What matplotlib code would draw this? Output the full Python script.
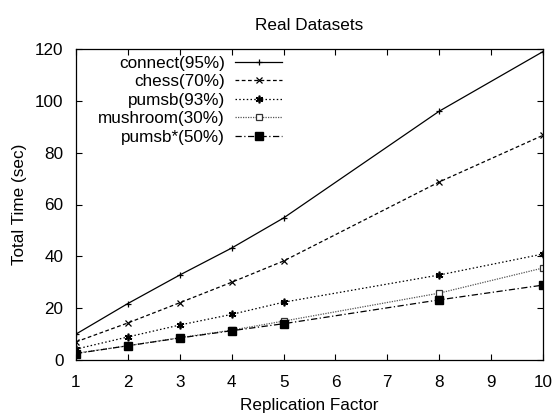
import matplotlib
matplotlib.use("Agg")
import matplotlib.pyplot as plt

plt.rcParams['font.family'] = ['Liberation Sans', 'DejaVu Sans']

x = [1, 2, 3, 4, 5, 8, 10]
connect = [10.0, 21.8, 32.8, 43.2, 54.8, 96.0, 119.0]
chess = [7.0, 14.3, 22.1, 30.0, 38.2, 68.7, 86.7]
pumsb = [4.2, 8.9, 13.5, 17.6, 22.3, 32.8, 40.9]
mushroom = [2.6, 5.5, 8.6, 11.5, 15.0, 25.8, 35.5]
pumsb_star = [2.5, 5.5, 8.5, 11.3, 14.0, 23.2, 28.9]

labels = ['connect(95%)', 'chess(70%)', 'pumsb(93%)', 'mushroom(30%)', 'pumsb*(50%)']
xticks = list(range(1, 11))
yticks = [0, 20, 40, 60, 80, 100, 120]

W, H = 552, 413
fig = plt.figure(figsize=(W / 100, H / 100), dpi=100)
ax = fig.add_axes([76 / W, (H - 360) / H, (543 - 76) / W, (360 - 49) / H])

fs = 12.3
ax.plot(x, connect, color='black', lw=0.9, ls='-', marker='+', ms=5, mew=0.9, label=labels[0])
ax.plot(x, chess, color='black', lw=0.9, ls=(0, (3, 2)), marker='x', ms=4.5, mew=0.9, label=labels[1])
ax.plot(x, pumsb, color='black', lw=0.9, ls=(0, (1.2, 1.8)), marker=(6, 2, 0), ms=5.5, mew=1.2, label=labels[2])
ax.plot(x, mushroom, color='#555555', lw=0.9, ls=(0, (1, 1)), marker='s', ms=4.3, mfc='white', mec='#333333', mew=0.9, label=labels[3])
ax.plot(x, pumsb_star, color='black', lw=0.9, ls=(0, (5, 2, 1, 2)), marker='s', ms=5.5, mfc='black', mec='black', label=labels[4])

ax.set_xlim(1, 10)
ax.set_ylim(0, 120)
ax.set_xticks(xticks)
ax.set_yticks(yticks)
ax.tick_params(direction='in', top=True, right=True, length=4, width=0.8, labelsize=fs)
ax.tick_params(axis='x', pad=10.5)
ax.tick_params(axis='y', pad=9)
for s in ax.spines.values():
    s.set_linewidth(0.9)

ax.set_title('Real Datasets', fontsize=fs, pad=14)
ax.set_xlabel('Replication Factor', fontsize=fs, labelpad=6)
ax.set_ylabel('Total Time (sec)', fontsize=fs, labelpad=6)

leg = fig.legend(loc='upper right', bbox_to_anchor=(282 / W, (H - 56) / H),
                 frameon=False, markerfirst=False, fontsize=fs,
                 handlelength=2.75, handletextpad=0.6, labelspacing=0.2,
                 borderpad=0, borderaxespad=0)

fig.savefig('out.png', dpi=100)
